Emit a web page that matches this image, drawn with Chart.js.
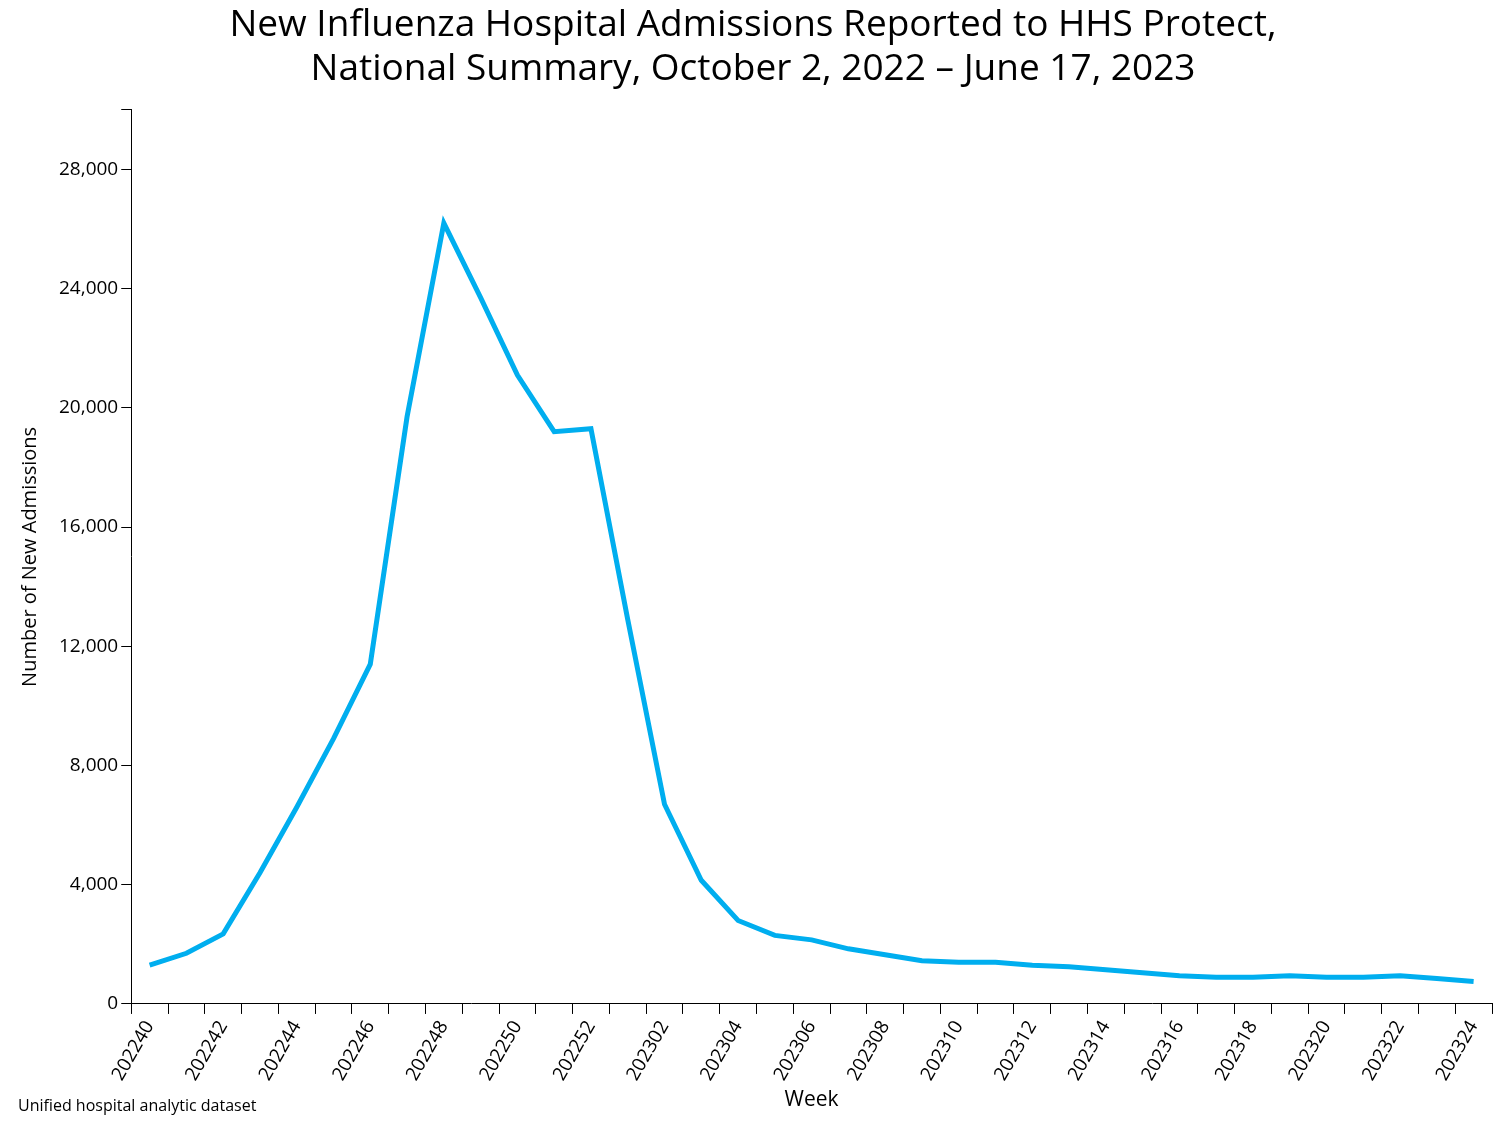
<!DOCTYPE html>
<html><head><meta charset="utf-8">
<script src="https://cdn.jsdelivr.net/npm/chart.js@4"></script>
<style>body{margin:0;background:#fff}#w{width:1500px;height:1125px;position:relative}
#foot{position:absolute;left:18px;top:1094px;font:16px "Open Sans",sans-serif;color:#000}</style>
</head><body><div id="w"><canvas id="c" width="1500" height="1125"></canvas><div id="foot">Unified hospital analytic dataset</div></div>
<script>
const weeks=[];
for(let w=40;w<=52;w++)weeks.push('2022'+w);
for(let w=1;w<=24;w++)weeks.push('2023'+String(w).padStart(2,'0'));
const admissions=[1300,1700,2350,4400,6600,8900,11400,19700,26200,23700,21100,19200,19300,12900,6700,4150,2800,2300,2150,1850,1650,1450,1400,1400,1300,1250,1150,1050,950,900,900,950,900,900,950,850,750];
const yTicks=[0,4000,8000,12000,16000,20000,24000,28000,30000];
const titleLines=['New Influenza Hospital Admissions Reported to HHS Protect,','National Summary, October 2, 2022 – June 17, 2023'];
const F='"Open Sans",sans-serif';
new Chart(document.getElementById('c'),{type:'line',
data:{labels:weeks,datasets:[{data:admissions,borderColor:'#00AEEF',borderWidth:5,pointRadius:0,tension:0}]},
options:{responsive:false,animation:false,
layout:{padding:{left:14,right:8,top:0,bottom:8}},
plugins:{legend:{display:false},title:{display:true,text:titleLines,color:'#000',font:{family:F,size:37,weight:'normal'},lineHeight:1.75,padding:{top:3,bottom:18}}},
scales:{
x:{offset:true,grid:{offset:true,drawOnChartArea:false,color:'#000',tickLength:10},border:{color:'#000'},
ticks:{autoSkip:false,maxRotation:60,minRotation:60,color:'#000',font:{family:F,size:19},callback:(v,i)=>i%2===0?weeks[i]:''},
title:{display:true,text:'Week',color:'#000',font:{family:F,size:21},padding:{top:0}}},
y:{min:0,max:30000,afterBuildTicks:a=>{a.ticks=yTicks.map(v=>({value:v}));},
grid:{drawOnChartArea:false,color:'#000',tickLength:10},border:{color:'#000'},
ticks:{color:'#000',font:{family:F,size:19},callback:v=>v>28000?'':v.toLocaleString('en-US')},
title:{display:true,text:'Number of New Admissions',color:'#000',font:{family:F,size:20},padding:{bottom:14}}}}}});
</script></body></html>
